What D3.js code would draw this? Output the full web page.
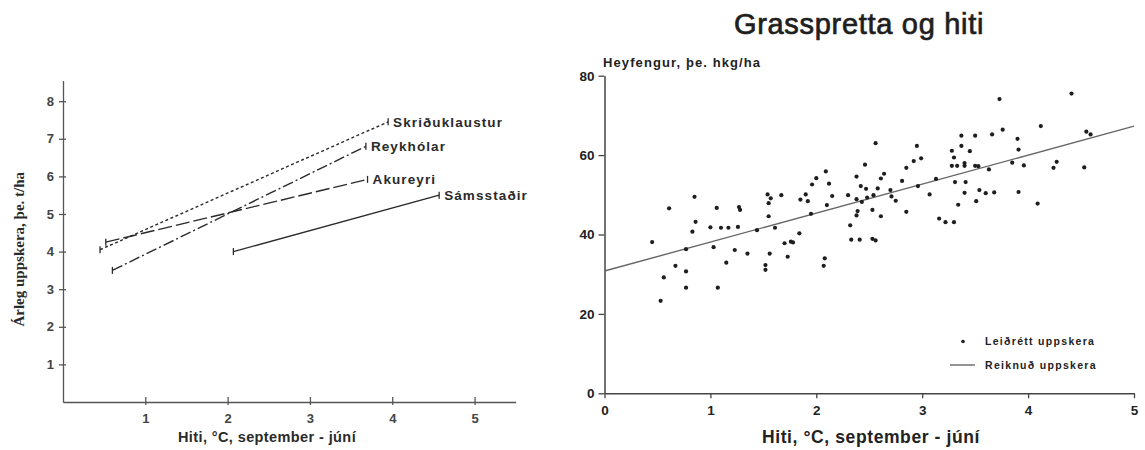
<!DOCTYPE html>
<html><head><meta charset="utf-8">
<script src="https://cdn.jsdelivr.net/npm/d3@7"></script>
<style>body{margin:0;background:#fff} svg{display:block}</style>
</head><body>
<svg id="chart" width="1145" height="450"></svg>
<script>
// Yearly yield per station against mean temperature (Sept–June)
const stations   = ["Skriðuklaustur", "Reykhólar", "Akureyri", "Sámsstaðir"];
const tempStart  = [0.45, 0.60, 0.52, 2.07];
const yieldStart = [4.05, 3.50, 4.25, 4.00];
const tempEnd    = [3.95, 3.68, 3.70, 4.57];
const yieldEnd   = [7.45, 6.80, 5.92, 5.50];
const leftXTicks = [1, 2, 3, 4, 5];
const leftYTicks = [1, 2, 3, 4, 5, 6, 7, 8];

// Hay harvest against temperature: corrected yield per year, and the fitted line
const scatterTemp = [0.45,0.53,0.56,0.61,0.67,0.77,0.77,0.77,0.83,0.85,0.86,1.00,1.03,1.06,1.07,1.10,1.15,1.17,1.23,1.26,
  1.27,1.28,1.35,1.44,1.52,1.52,1.54,1.55,1.55,1.56,1.57,1.61,1.67,1.70,1.73,1.76,1.78,1.84,1.85,1.90,
  1.92,1.95,1.96,2.00,2.07,2.08,2.09,2.10,2.12,2.15,2.30,2.32,2.33,2.38,2.38,2.39,2.38,2.41,2.42,2.43,
  2.46,2.47,2.48,2.53,2.53,2.54,2.56,2.56,2.58,2.61,2.61,2.64,2.70,2.71,2.75,2.81,2.85,2.85,2.92,2.95,
  2.96,2.99,3.07,3.13,3.16,3.22,3.28,3.28,3.30,3.30,3.31,3.33,3.34,3.37,3.37,3.40,3.40,3.41,3.40,3.45,
  3.50,3.50,3.51,3.53,3.54,3.60,3.63,3.66,3.68,3.73,3.76,3.85,3.90,3.91,3.91,3.96,4.09,4.12,4.24,4.27,
  4.41,4.53,4.55,4.59];
const scatterHay = [38.1,23.3,29.2,46.6,32.1,30.7,26.6,36.3,40.7,49.5,43.2,41.8,36.8,46.7,26.6,41.7,32.9,41.7,36.1,41.9,
  46.9,46.2,35.2,41.1,32.3,31.1,50.1,47.9,44.6,35.2,49.1,41.7,49.9,37.8,34.4,38.2,38.0,40.3,48.8,50.1,
  48.4,45.2,52.6,54.2,32.1,34.0,55.9,47.4,52.8,49.7,49.9,42.3,38.7,54.6,48.9,45.9,44.8,38.7,52.2,48.2,
  57.6,51.5,49.3,46.2,38.9,49.9,63.0,38.5,51.6,54.1,44.6,55.3,51.2,49.6,48.5,53.5,56.8,45.7,58.5,62.3,
  52.2,59.2,50.1,54.0,44.0,43.1,61.1,57.3,59.4,43.1,53.2,57.3,47.5,64.9,62.3,58.0,57.3,53.2,50.5,61.0,
  64.9,57.3,48.4,57.2,51.2,50.4,56.4,65.2,50.6,74.1,66.4,58.1,64.1,61.4,50.7,57.4,47.8,67.3,56.8,58.3,
  75.5,56.9,65.9,65.2];
const fitTemp = [0, 5];
const fitHay  = [30.8, 67.3];
const rightXTicks = [0, 1, 2, 3, 4, 5];
const rightYTicks = [0, 20, 40, 60, 80];

const svg = d3.select("#chart");
svg.append("rect").attr("width", 1145).attr("height", 450).attr("fill", "#fff");
const ink = "#2a2a2a";
const sans = "Liberation Sans, Arial, sans-serif";
const intFmt = d3.format("d");

// ---------- Left panel ----------
const xL = d3.scaleLinear().domain([0, 5.5]).range([63, 515.7]);
const yL = d3.scaleLinear().domain([0, 8.55]).range([402, 80.5]);
const left = svg.append("g");

const lxAxis = left.append("g").attr("transform", `translate(0,${yL(0)})`)
  .call(d3.axisBottom(xL).tickValues(leftXTicks).tickFormat(intFmt)
    .tickSizeOuter(0).tickSizeInner(6).tickPadding(6));
lxAxis.selectAll(".tick line").attr("y1", -5).attr("y2", 3);
const lyAxis = left.append("g").attr("transform", `translate(${xL(0)},0)`)
  .call(d3.axisLeft(yL).tickValues(leftYTicks).tickFormat(intFmt)
    .tickSizeOuter(0).tickSizeInner(4).tickPadding(5));
lyAxis.selectAll(".tick line").attr("x1", 3);
[lxAxis, lyAxis].forEach(a => {
  a.select(".domain").attr("stroke", "#555").attr("stroke-width", 1.3);
  a.selectAll(".tick line").attr("stroke", "#555").attr("stroke-width", 1.3);
  a.selectAll(".tick text").attr("font-family", sans)
    .attr("font-size", 13).attr("font-weight", "bold").attr("fill", "#444");
});

const dashes = ["3,2.5", "11,3,2,3", "14,4", null];
stations.forEach((name, i) => {
  const x1 = xL(tempStart[i]), y1 = yL(yieldStart[i]);
  const x2 = xL(tempEnd[i]), y2 = yL(yieldEnd[i]);
  left.append("line").attr("x1", x1).attr("y1", y1).attr("x2", x2).attr("y2", y2)
    .attr("stroke", ink).attr("stroke-width", 1.4)
    .attr("stroke-dasharray", dashes[i]);
  [[x1, y1], [x2, y2]].forEach(([px, py]) => {
    left.append("line").attr("x1", px).attr("x2", px).attr("y1", py - 3.5).attr("y2", py + 3.5)
      .attr("stroke", ink).attr("stroke-width", 1.3);
  });
  left.append("text").attr("x", x2 + 5).attr("y", y2).attr("dy", "0.35em")
    .attr("font-family", sans).attr("font-size", 13.5)
    .attr("font-weight", "bold").attr("letter-spacing", 1.1).attr("fill", ink).text(name);
});

left.append("text").attr("transform", `translate(24,${(yL(0) + yL(8.55)) / 2 + 8}) rotate(-90)`)
  .attr("text-anchor", "middle").attr("font-family", "Liberation Serif, Times New Roman, serif")
  .attr("font-size", 15).attr("font-weight", "bold").attr("fill", ink)
  .text("Árleg uppskera, þe. t/ha");
left.append("text").attr("x", 267).attr("y", 442).attr("text-anchor", "middle")
  .attr("font-family", sans).attr("font-size", 14.5).attr("letter-spacing", 0.4)
  .attr("font-weight", "bold").attr("fill", ink).text("Hiti, °C, september - júní");

// ---------- Right panel ----------
const xR = d3.scaleLinear().domain([0, 5]).range([604.5, 1134]);
const yR = d3.scaleLinear().domain([0, 80]).range([393.3, 75.7]);
const right = svg.append("g");

const rxAxis = right.append("g").attr("transform", `translate(0,${yR(0)})`)
  .call(d3.axisBottom(xR).tickValues(rightXTicks).tickFormat(intFmt)
    .tickSizeOuter(0).tickSizeInner(5).tickPadding(7));
const ryAxis = right.append("g").attr("transform", `translate(${xR(0)},0)`)
  .call(d3.axisLeft(yR).tickValues(rightYTicks).tickFormat(intFmt)
    .tickSizeOuter(0).tickSizeInner(6).tickPadding(4));
[rxAxis, ryAxis].forEach(a => {
  a.select(".domain").attr("stroke", "#444").attr("stroke-width", 1.5);
  a.selectAll(".tick line").attr("stroke", "#444").attr("stroke-width", 1.3);
  a.selectAll(".tick text").attr("font-family", sans)
    .attr("font-size", 13.5).attr("font-weight", "bold").attr("fill", "#222");
});

right.append("line")
  .attr("x1", xR(fitTemp[0])).attr("y1", yR(fitHay[0]))
  .attr("x2", xR(fitTemp[1])).attr("y2", yR(fitHay[1]))
  .attr("stroke", "#666").attr("stroke-width", 1.4);

right.append("g").selectAll("circle").data(scatterTemp).join("circle")
  .attr("cx", (d) => xR(d)).attr("cy", (d, i) => yR(scatterHay[i]))
  .attr("r", 2.1).attr("fill", "#1e1e1e");

right.append("text").attr("x", 859).attr("y", 34).attr("text-anchor", "middle")
  .attr("font-family", sans).attr("font-size", 29).attr("letter-spacing", 0.7)
  .attr("fill", "#1e1e1e").attr("stroke", "#1e1e1e").attr("stroke-width", 0.7)
  .text("Grasspretta og hiti");
right.append("text").attr("x", 603).attr("y", 67)
  .attr("font-family", sans).attr("font-size", 13)
  .attr("font-weight", "bold").attr("letter-spacing", 1.1).attr("fill", "#222")
  .text("Heyfengur, þe. hkg/ha");
right.append("text").attr("x", 871).attr("y", 443).attr("text-anchor", "middle")
  .attr("font-family", sans).attr("font-size", 17.5).attr("letter-spacing", 0.6)
  .attr("font-weight", "bold").attr("fill", "#222").text("Hiti, °C, september - júní");

// Legend
const lg = right.append("g").attr("font-family", sans)
  .attr("font-size", 10.5).attr("font-weight", "bold").attr("letter-spacing", 1.3).attr("fill", "#222");
lg.append("circle").attr("cx", 963).attr("cy", 341.5).attr("r", 1.8).attr("fill", "#1e1e1e");
lg.append("text").attr("x", 985).attr("y", 341.5).attr("dy", "0.35em").text("Leiðrétt uppskera");
lg.append("line").attr("x1", 950).attr("x2", 975).attr("y1", 365).attr("y2", 365)
  .attr("stroke", "#666").attr("stroke-width", 1.4);
lg.append("text").attr("x", 985).attr("y", 365).attr("dy", "0.35em").text("Reiknuð uppskera");
</script>
</body></html>
